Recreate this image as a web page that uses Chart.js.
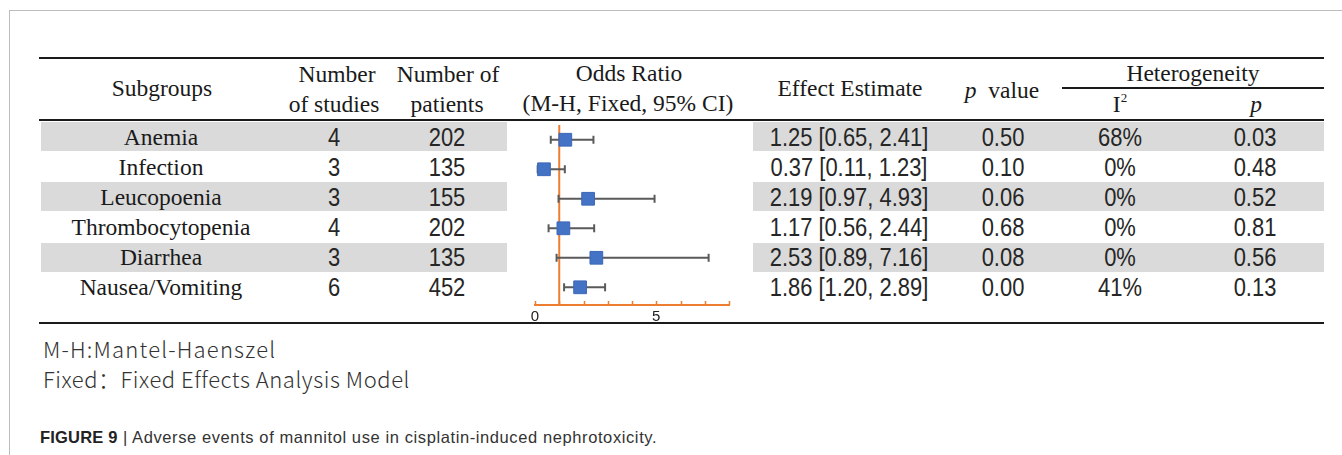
<!DOCTYPE html>
<html>
<head>
<meta charset="utf-8">
<script src="https://cdn.jsdelivr.net/npm/chart.js@4.4.1/dist/chart.umd.min.js"></script>
<style>
  html, body { margin: 0; padding: 0; background: #fff; }
  body { width: 1342px; height: 455px; position: relative; overflow: hidden; }
  .frame { position: absolute; left: 9px; top: 10px; right: -2px; bottom: -2px;
           border-left: 1px solid #bcbcbc; border-top: 1px solid #bcbcbc; }
  .rule { position: absolute; background: #1a1a1a; }
  .band { position: absolute; background: #dadada; }
  .t { position: absolute; width: 400px; text-align: center; white-space: nowrap; color: #1a1a1a; }
  .serif { font-family: "Liberation Serif", "DejaVu Serif", serif; font-size: 23.5px; line-height: 26px; }
  .num { font-family: "Liberation Sans", Arial, sans-serif; font-size: 25.5px; line-height: 26px; color: #262626;
         transform: scaleX(0.86); transform-origin: 50% 50%; }
  .note { position: absolute; left: 43px; font-family: "Noto Sans CJK SC", "Noto Sans", sans-serif; font-weight: 300;
          font-size: 22px; line-height: 26px; color: #333; white-space: nowrap; }
  .caption { position: absolute; left: 40px; top: 427px; font-family: "Liberation Sans", Arial, sans-serif;
             font-size: 16.5px; line-height: 20px; color: #333; white-space: nowrap; letter-spacing: 0.6px; }
  .caption b { color: #222; letter-spacing: 0.2px; }
  #plotBox { position: absolute; left: 500px; top: 115px; width: 260px; height: 215px; }
</style>
</head>
<body>
<div class="frame"></div>
<div id="table"></div>
<div id="plotBox"><canvas id="forestChart" width="260" height="215"></canvas></div>
<div class="note" style="top:335px;letter-spacing:1.2px;">M-H:Mantel-Haenszel</div>
<div class="note" style="top:365px;letter-spacing:0.55px;">Fixed：Fixed Effects Analysis Model</div>
<div class="caption"><b>FIGURE 9</b> | Adverse events of mannitol use in cisplatin-induced nephrotoxicity.</div>

<script>
// Data
const subgroups = ['Anemia', 'Infection', 'Leucopoenia', 'Thrombocytopenia', 'Diarrhea', 'Nausea/Vomiting'];
const studyCounts = [4, 3, 3, 4, 3, 6];
const patientCounts = [202, 135, 155, 202, 135, 452];
const oddsRatios = [1.25, 0.37, 2.19, 1.17, 2.53, 1.86];
const ciLower = [0.65, 0.11, 0.97, 0.56, 0.89, 1.20];
const ciUpper = [2.41, 1.23, 4.93, 2.44, 7.16, 2.89];
const pValues = ['0.50', '0.10', '0.06', '0.68', '0.08', '0.00'];
const iSquared = ['68%', '0%', '0%', '0%', '0%', '41%'];
const hetPValues = ['0.03', '0.48', '0.52', '0.81', '0.56', '0.13'];
const xTickLabels = [0, 5];
const nullValue = 1;

const ORANGE = '#ED7D31';
const ROW_TOP = 122;
const ROW_H = 30.15;

const table = document.getElementById('table');

function addDiv(cls, style, html) {
    const d = document.createElement('div');
    d.className = cls;
    d.setAttribute('style', style);
    if (html !== undefined) d.innerHTML = html;
    table.appendChild(d);
    return d;
}

// text centred on (cx, cy)
function place(html, cx, cy, cls) {
    addDiv('t ' + cls, `left:${cx - 200}px;top:${cy - 13}px;`, html);
}

// rules
addDiv('rule', 'left:39px;top:57px;width:1285px;height:2px;');
addDiv('rule', 'left:39px;top:119px;width:1285px;height:2px;');
addDiv('rule', 'left:1062px;top:87px;width:262px;height:1.5px;');
addDiv('rule', 'left:39px;top:322px;width:1285px;height:2px;');

// shaded rows
subgroups.forEach((name, i) => {
    if (i % 2 !== 0) return;
    const top = ROW_TOP + i * ROW_H;
    addDiv('band', `left:41px;top:${top}px;width:466px;height:29px;`);
    addDiv('band', `left:753px;top:${top}px;width:571px;height:29px;`);
});

// header
place('Subgroups', 162, 88, 'serif');
place('Number', 337, 74, 'serif');
place('of studies', 334, 104, 'serif');
place('Number of', 448, 74, 'serif');
place('patients', 447, 104, 'serif');
place('Odds Ratio', 629, 73, 'serif');
place('(M-H, Fixed, 95% CI)', 628, 103, 'serif');
place('Effect Estimate', 850, 88, 'serif');
place('<i>p</i>&nbsp; value', 1002, 90, 'serif');
place('Heterogeneity', 1193, 73, 'serif');
place('I<sup style="font-size:13px;vertical-align:10px;line-height:0">2</sup>', 1120, 104, 'serif');
place('<i>p</i>', 1256, 104, 'serif');

// body rows
subgroups.forEach((name, i) => {
    const cy = ROW_TOP + 14.5 + i * ROW_H;
    place(name, 161, cy, 'serif');
    place(studyCounts[i], 334, cy, 'num');
    place(patientCounts[i], 447, cy, 'num');
    place(`${oddsRatios[i].toFixed(2)} [${ciLower[i].toFixed(2)}, ${ciUpper[i].toFixed(2)}]`, 849, cy, 'num');
    place(pValues[i], 1003, cy, 'num');
    place(iSquared[i], 1120, cy, 'num');
    place(hetPValues[i], 1255, cy, 'num');
});

// forest plot
const rowIndex = subgroups.map((_, i) => i);

const whiskerSets = rowIndex.map(i => ({
    type: 'line',
    data: [{ x: ciLower[i], y: i }, { x: ciUpper[i], y: i }],
    borderColor: '#5a5a5a',
    borderWidth: 2,
    pointStyle: 'line',
    pointRotation: 90,
    pointRadius: 4,
    pointBorderWidth: 2,
    pointBorderColor: '#5a5a5a',
    order: 2
}));

// upward tick marks on the x axis
const upTicks = {
    id: 'upTicks',
    afterDraw(chart) {
        const xs = chart.scales.x;
        const ctx = chart.ctx;
        ctx.save();
        ctx.strokeStyle = ORANGE;
        ctx.lineWidth = 1.5;
        xs.ticks.forEach(t => {
            const px = Math.round(xs.getPixelForValue(t.value)) + 0.5;
            ctx.beginPath();
            ctx.moveTo(px, xs.top);
            ctx.lineTo(px, xs.top - 4);
            ctx.stroke();
        });
        ctx.restore();
    }
};

new Chart(document.getElementById('forestChart'), {
    type: 'scatter',
    data: {
        datasets: [
            {
                data: oddsRatios.map((v, i) => ({ x: v, y: i })),
                pointStyle: 'rect',
                pointRadius: 9,
                backgroundColor: '#4472C4',
                borderColor: '#3d68b8',
                borderWidth: 1,
                order: 1
            },
            ...whiskerSets,
            {
                type: 'line',
                data: [{ x: nullValue, y: -0.5 }, { x: nullValue, y: 5.6 }],
                borderColor: ORANGE,
                borderWidth: 2,
                pointRadius: 0,
                order: 3
            }
        ]
    },
    options: {
        responsive: false,
        animation: false,
        layout: { padding: { left: 35, right: 31, top: 7, bottom: 0 } },
        plugins: { legend: { display: false }, tooltip: { enabled: false } },
        scales: {
            x: {
                type: 'linear',
                min: 0,
                max: 8,
                afterFit: (scale) => { scale.height = 25; },
                ticks: {
                    stepSize: 1,
                    padding: 3,
                    color: '#222',
                    font: { family: 'Liberation Sans', size: 15 },
                    callback: (v) => xTickLabels.includes(v) ? String(v) : ''
                },
                grid: { display: true, drawOnChartArea: false, drawTicks: false, color: ORANGE },
                border: { display: true, color: ORANGE, width: 2 }
            },
            y: {
                type: 'linear',
                display: false,
                reverse: true,
                min: -0.5,
                max: 5.6
            }
        }
    },
    plugins: [upTicks]
});
</script>
</body>
</html>
